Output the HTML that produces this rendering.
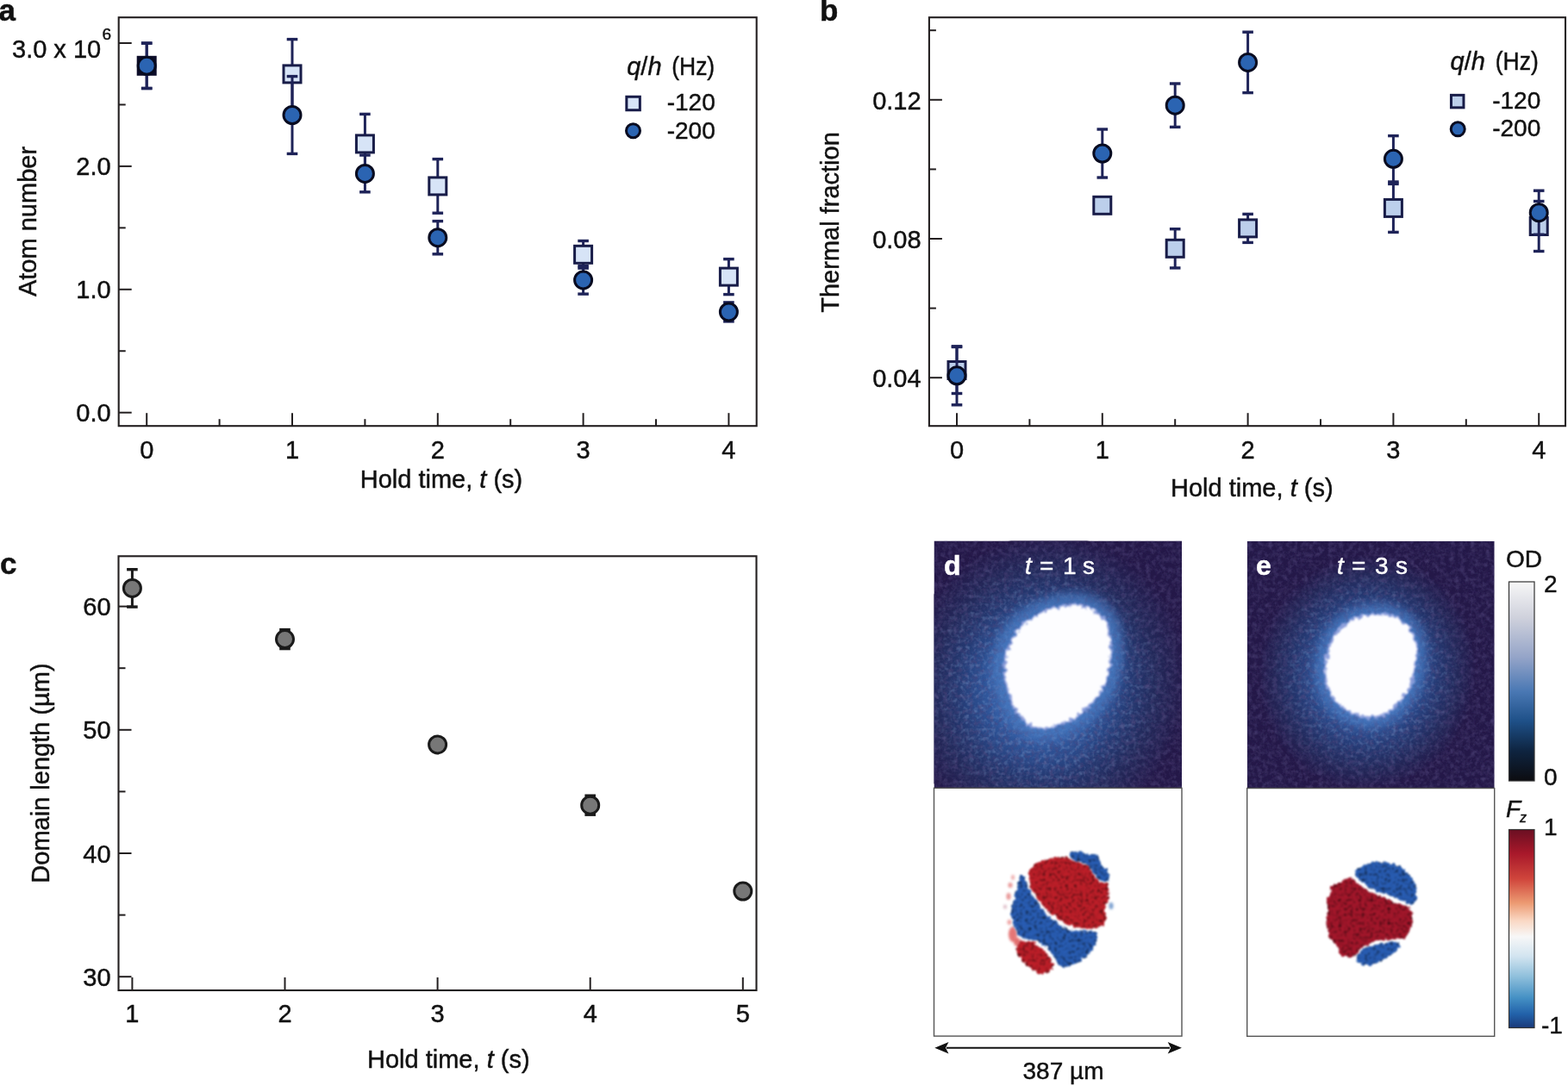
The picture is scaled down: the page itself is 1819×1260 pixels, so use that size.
<!DOCTYPE html>
<html><head><meta charset="utf-8"><title>Figure</title><style>
html,body{margin:0;padding:0;background:#fff;overflow:hidden;}
svg{display:block;}
text{font-family:"Liberation Sans", Arial, Helvetica, sans-serif;fill:#111;stroke:#111;stroke-width:0.45px;}
.b{font-weight:bold;}
</style></head><body>
<svg width="1819" height="1260" viewBox="0 0 1819 1260">
<rect width="1819" height="1260" fill="#fff"/>
<rect x="137.7" y="20.2" width="740.0" height="474.0" fill="none" stroke="#231f20" stroke-width="2.1"/>
<line x1="137.7" y1="478.7" x2="152.7" y2="478.7" stroke="#231f20" stroke-width="2"/>
<line x1="137.7" y1="335.79999999999995" x2="152.7" y2="335.79999999999995" stroke="#231f20" stroke-width="2"/>
<line x1="137.7" y1="192.89999999999998" x2="152.7" y2="192.89999999999998" stroke="#231f20" stroke-width="2"/>
<line x1="137.7" y1="49.99999999999994" x2="152.7" y2="49.99999999999994" stroke="#231f20" stroke-width="2"/>
<line x1="137.7" y1="407.25" x2="145.7" y2="407.25" stroke="#231f20" stroke-width="2"/>
<line x1="137.7" y1="264.34999999999997" x2="145.7" y2="264.34999999999997" stroke="#231f20" stroke-width="2"/>
<line x1="137.7" y1="121.44999999999999" x2="145.7" y2="121.44999999999999" stroke="#231f20" stroke-width="2"/>
<line x1="170.2" y1="494.2" x2="170.2" y2="479.2" stroke="#231f20" stroke-width="2"/>
<line x1="339.0" y1="494.2" x2="339.0" y2="479.2" stroke="#231f20" stroke-width="2"/>
<line x1="507.8" y1="494.2" x2="507.8" y2="479.2" stroke="#231f20" stroke-width="2"/>
<line x1="676.6" y1="494.2" x2="676.6" y2="479.2" stroke="#231f20" stroke-width="2"/>
<line x1="845.4000000000001" y1="494.2" x2="845.4000000000001" y2="479.2" stroke="#231f20" stroke-width="2"/>
<line x1="254.6" y1="494.2" x2="254.6" y2="486.2" stroke="#231f20" stroke-width="2"/>
<line x1="423.4" y1="494.2" x2="423.4" y2="486.2" stroke="#231f20" stroke-width="2"/>
<line x1="592.2" y1="494.2" x2="592.2" y2="486.2" stroke="#231f20" stroke-width="2"/>
<line x1="761.0" y1="494.2" x2="761.0" y2="486.2" stroke="#231f20" stroke-width="2"/>
<text x="170.2" y="531.7" font-size="29" text-anchor="middle" >0</text>
<text x="339.0" y="531.7" font-size="29" text-anchor="middle" >1</text>
<text x="507.8" y="531.7" font-size="29" text-anchor="middle" >2</text>
<text x="676.6" y="531.7" font-size="29" text-anchor="middle" >3</text>
<text x="845.4000000000001" y="531.7" font-size="29" text-anchor="middle" >4</text>
<text x="128.6" y="489.2" font-size="29" text-anchor="end" >0.0</text>
<text x="128.6" y="346.29999999999995" font-size="29" text-anchor="end" >1.0</text>
<text x="128.6" y="203.39999999999998" font-size="29" text-anchor="end" >2.0</text>
<text x="14" y="66.9" font-size="29" text-anchor="start" >3.0 x 10</text>
<text x="118.5" y="46.3" font-size="19" text-anchor="start" >6</text>
<text x="512" y="566.2" font-size="29" text-anchor="middle" >Hold time, <tspan font-style="italic">t</tspan> (s)</text>
<text transform="translate(41.5,257) rotate(-90)" font-size="29" text-anchor="middle">Atom number</text>
<text x="-1.5" y="23.8" font-size="35" class="b">a</text>
<text x="727.2" y="87" font-size="29" text-anchor="start" ><tspan font-style="italic">q</tspan>/<tspan font-style="italic">h</tspan></text>
<text x="779.2" y="87" font-size="29" textLength="50" lengthAdjust="spacingAndGlyphs">(Hz)</text>
<rect x="726.85" y="112.25" width="15.5" height="15.5" fill="#d7e4f7" stroke="#181c48" stroke-width="3"/>
<text x="773.7" y="128.3" font-size="28" text-anchor="start" >-120</text>
<circle cx="734.5" cy="151.7" r="8" fill="#2b64b2" stroke="#080b20" stroke-width="3"/>
<text x="773.7" y="160.5" font-size="28" text-anchor="start" >-200</text>
<line x1="170.2" y1="50.099999999999994" x2="170.2" y2="102.5" stroke="#1e2358" stroke-width="3"/>
<line x1="163.89999999999998" y1="50.099999999999994" x2="176.5" y2="50.099999999999994" stroke="#1e2358" stroke-width="3.4"/>
<line x1="163.89999999999998" y1="102.5" x2="176.5" y2="102.5" stroke="#1e2358" stroke-width="3.4"/>
<line x1="339.0" y1="45.60000000000001" x2="339.0" y2="126.2" stroke="#1e2358" stroke-width="3"/>
<line x1="332.7" y1="45.60000000000001" x2="345.3" y2="45.60000000000001" stroke="#1e2358" stroke-width="3.4"/>
<line x1="332.7" y1="126.2" x2="345.3" y2="126.2" stroke="#1e2358" stroke-width="3.4"/>
<line x1="423.4" y1="132.4" x2="423.4" y2="201.4" stroke="#1e2358" stroke-width="3"/>
<line x1="417.09999999999997" y1="132.4" x2="429.7" y2="132.4" stroke="#1e2358" stroke-width="3.4"/>
<line x1="417.09999999999997" y1="201.4" x2="429.7" y2="201.4" stroke="#1e2358" stroke-width="3.4"/>
<line x1="507.8" y1="184.6" x2="507.8" y2="247.20000000000002" stroke="#1e2358" stroke-width="3"/>
<line x1="501.5" y1="184.6" x2="514.1" y2="184.6" stroke="#1e2358" stroke-width="3.4"/>
<line x1="501.5" y1="247.20000000000002" x2="514.1" y2="247.20000000000002" stroke="#1e2358" stroke-width="3.4"/>
<line x1="676.6" y1="279.5" x2="676.6" y2="311.1" stroke="#1e2358" stroke-width="3"/>
<line x1="670.3000000000001" y1="279.5" x2="682.9" y2="279.5" stroke="#1e2358" stroke-width="3.4"/>
<line x1="670.3000000000001" y1="311.1" x2="682.9" y2="311.1" stroke="#1e2358" stroke-width="3.4"/>
<line x1="845.4000000000001" y1="300.6" x2="845.4000000000001" y2="341.6" stroke="#1e2358" stroke-width="3"/>
<line x1="839.1000000000001" y1="300.6" x2="851.7" y2="300.6" stroke="#1e2358" stroke-width="3.4"/>
<line x1="839.1000000000001" y1="341.6" x2="851.7" y2="341.6" stroke="#1e2358" stroke-width="3.4"/>
<rect x="160.2" y="66.3" width="20" height="20" fill="#16163a" stroke="#0d0d2a" stroke-width="3"/>
<rect x="329.0" y="75.9" width="20" height="20" fill="#d7e4f7" stroke="#181c48" stroke-width="3"/>
<rect x="413.4" y="156.9" width="20" height="20" fill="#d7e4f7" stroke="#181c48" stroke-width="3"/>
<rect x="497.8" y="205.9" width="20" height="20" fill="#d7e4f7" stroke="#181c48" stroke-width="3"/>
<rect x="666.6" y="285.3" width="20" height="20" fill="#d7e4f7" stroke="#181c48" stroke-width="3"/>
<rect x="835.4000000000001" y="311.1" width="20" height="20" fill="#d7e4f7" stroke="#181c48" stroke-width="3"/>
<line x1="170.2" y1="50.099999999999994" x2="170.2" y2="102.5" stroke="#1e2358" stroke-width="3"/>
<line x1="163.89999999999998" y1="50.099999999999994" x2="176.5" y2="50.099999999999994" stroke="#1e2358" stroke-width="3.4"/>
<line x1="163.89999999999998" y1="102.5" x2="176.5" y2="102.5" stroke="#1e2358" stroke-width="3.4"/>
<line x1="339.0" y1="88.6" x2="339.0" y2="178.4" stroke="#1e2358" stroke-width="3"/>
<line x1="332.7" y1="88.6" x2="345.3" y2="88.6" stroke="#1e2358" stroke-width="3.4"/>
<line x1="332.7" y1="178.4" x2="345.3" y2="178.4" stroke="#1e2358" stroke-width="3.4"/>
<line x1="423.4" y1="180.0" x2="423.4" y2="222.8" stroke="#1e2358" stroke-width="3"/>
<line x1="417.09999999999997" y1="180.0" x2="429.7" y2="180.0" stroke="#1e2358" stroke-width="3.4"/>
<line x1="417.09999999999997" y1="222.8" x2="429.7" y2="222.8" stroke="#1e2358" stroke-width="3.4"/>
<line x1="507.8" y1="256.59999999999997" x2="507.8" y2="294.8" stroke="#1e2358" stroke-width="3"/>
<line x1="501.5" y1="256.59999999999997" x2="514.1" y2="256.59999999999997" stroke="#1e2358" stroke-width="3.4"/>
<line x1="501.5" y1="294.8" x2="514.1" y2="294.8" stroke="#1e2358" stroke-width="3.4"/>
<line x1="676.6" y1="308.7" x2="676.6" y2="341.09999999999997" stroke="#1e2358" stroke-width="3"/>
<line x1="670.3000000000001" y1="308.7" x2="682.9" y2="308.7" stroke="#1e2358" stroke-width="3.4"/>
<line x1="670.3000000000001" y1="341.09999999999997" x2="682.9" y2="341.09999999999997" stroke="#1e2358" stroke-width="3.4"/>
<line x1="845.4000000000001" y1="350.9" x2="845.4000000000001" y2="372.9" stroke="#1e2358" stroke-width="3"/>
<line x1="839.1000000000001" y1="350.9" x2="851.7" y2="350.9" stroke="#1e2358" stroke-width="3.4"/>
<line x1="839.1000000000001" y1="372.9" x2="851.7" y2="372.9" stroke="#1e2358" stroke-width="3.4"/>
<circle cx="170.2" cy="76.3" r="10" fill="#2b64b2" stroke="#080b20" stroke-width="3"/>
<circle cx="339.0" cy="133.5" r="10" fill="#2b64b2" stroke="#080b20" stroke-width="3"/>
<circle cx="423.4" cy="201.4" r="10" fill="#2b64b2" stroke="#080b20" stroke-width="3"/>
<circle cx="507.8" cy="275.7" r="10" fill="#2b64b2" stroke="#080b20" stroke-width="3"/>
<circle cx="676.6" cy="324.9" r="10" fill="#2b64b2" stroke="#080b20" stroke-width="3"/>
<circle cx="845.4000000000001" cy="361.9" r="10" fill="#2b64b2" stroke="#080b20" stroke-width="3"/>
<rect x="1077.9" y="20.2" width="738.0999999999999" height="474.0" fill="none" stroke="#231f20" stroke-width="2.1"/>
<line x1="1077.9" y1="438.19999999999993" x2="1092.9" y2="438.19999999999993" stroke="#231f20" stroke-width="2"/>
<line x1="1077.9" y1="276.99999999999994" x2="1092.9" y2="276.99999999999994" stroke="#231f20" stroke-width="2"/>
<line x1="1077.9" y1="115.8" x2="1092.9" y2="115.8" stroke="#231f20" stroke-width="2"/>
<line x1="1077.9" y1="357.59999999999997" x2="1085.9" y2="357.59999999999997" stroke="#231f20" stroke-width="2"/>
<line x1="1077.9" y1="196.39999999999995" x2="1085.9" y2="196.39999999999995" stroke="#231f20" stroke-width="2"/>
<line x1="1077.9" y1="35.19999999999993" x2="1085.9" y2="35.19999999999993" stroke="#231f20" stroke-width="2"/>
<line x1="1110.0" y1="494.2" x2="1110.0" y2="479.2" stroke="#231f20" stroke-width="2"/>
<line x1="1278.8" y1="494.2" x2="1278.8" y2="479.2" stroke="#231f20" stroke-width="2"/>
<line x1="1447.6" y1="494.2" x2="1447.6" y2="479.2" stroke="#231f20" stroke-width="2"/>
<line x1="1616.4" y1="494.2" x2="1616.4" y2="479.2" stroke="#231f20" stroke-width="2"/>
<line x1="1785.2" y1="494.2" x2="1785.2" y2="479.2" stroke="#231f20" stroke-width="2"/>
<line x1="1194.4" y1="494.2" x2="1194.4" y2="486.2" stroke="#231f20" stroke-width="2"/>
<line x1="1363.2" y1="494.2" x2="1363.2" y2="486.2" stroke="#231f20" stroke-width="2"/>
<line x1="1532.0" y1="494.2" x2="1532.0" y2="486.2" stroke="#231f20" stroke-width="2"/>
<line x1="1700.8000000000002" y1="494.2" x2="1700.8000000000002" y2="486.2" stroke="#231f20" stroke-width="2"/>
<text x="1110.0" y="531.5" font-size="29" text-anchor="middle" >0</text>
<text x="1278.8" y="531.5" font-size="29" text-anchor="middle" >1</text>
<text x="1447.6" y="531.5" font-size="29" text-anchor="middle" >2</text>
<text x="1616.4" y="531.5" font-size="29" text-anchor="middle" >3</text>
<text x="1785.2" y="531.5" font-size="29" text-anchor="middle" >4</text>
<text x="1068.6" y="449.19999999999993" font-size="29" text-anchor="end" >0.04</text>
<text x="1068.6" y="287.99999999999994" font-size="29" text-anchor="end" >0.08</text>
<text x="1068.6" y="126.8" font-size="29" text-anchor="end" >0.12</text>
<text x="1452.3" y="576.4" font-size="29" text-anchor="middle" >Hold time, <tspan font-style="italic">t</tspan> (s)</text>
<text transform="translate(972.7,258) rotate(-90)" font-size="29" text-anchor="middle">Thermal fraction</text>
<text x="951" y="23.5" font-size="35" class="b">b</text>
<text x="1682.6" y="81.4" font-size="29" text-anchor="start" ><tspan font-style="italic">q</tspan>/<tspan font-style="italic">h</tspan></text>
<text x="1734.8" y="81.4" font-size="29" textLength="50" lengthAdjust="spacingAndGlyphs">(Hz)</text>
<rect x="1683.45" y="110.35" width="14.5" height="14.5" fill="#bccfeb" stroke="#181c48" stroke-width="3"/>
<text x="1731.2" y="126" font-size="28" text-anchor="start" >-120</text>
<circle cx="1691.2" cy="149.8" r="8" fill="#2b64b2" stroke="#080b20" stroke-width="3"/>
<text x="1731.2" y="158" font-size="28" text-anchor="start" >-200</text>
<line x1="1110.0" y1="402.5" x2="1110.0" y2="456.5" stroke="#1e2358" stroke-width="3"/>
<line x1="1103.7" y1="402.5" x2="1116.3" y2="402.5" stroke="#1e2358" stroke-width="3.4"/>
<line x1="1103.7" y1="456.5" x2="1116.3" y2="456.5" stroke="#1e2358" stroke-width="3.4"/>
<line x1="1363.2" y1="265.7" x2="1363.2" y2="310.90000000000003" stroke="#1e2358" stroke-width="3"/>
<line x1="1356.9" y1="265.7" x2="1369.5" y2="265.7" stroke="#1e2358" stroke-width="3.4"/>
<line x1="1356.9" y1="310.90000000000003" x2="1369.5" y2="310.90000000000003" stroke="#1e2358" stroke-width="3.4"/>
<line x1="1447.6" y1="248.39999999999998" x2="1447.6" y2="281.4" stroke="#1e2358" stroke-width="3"/>
<line x1="1441.3" y1="248.39999999999998" x2="1453.8999999999999" y2="248.39999999999998" stroke="#1e2358" stroke-width="3.4"/>
<line x1="1441.3" y1="281.4" x2="1453.8999999999999" y2="281.4" stroke="#1e2358" stroke-width="3.4"/>
<line x1="1616.4" y1="213.4" x2="1616.4" y2="269.4" stroke="#1e2358" stroke-width="3"/>
<line x1="1610.1000000000001" y1="213.4" x2="1622.7" y2="213.4" stroke="#1e2358" stroke-width="3.4"/>
<line x1="1610.1000000000001" y1="269.4" x2="1622.7" y2="269.4" stroke="#1e2358" stroke-width="3.4"/>
<line x1="1785.2" y1="233.5" x2="1785.2" y2="291.5" stroke="#1e2358" stroke-width="3"/>
<line x1="1778.9" y1="233.5" x2="1791.5" y2="233.5" stroke="#1e2358" stroke-width="3.4"/>
<line x1="1778.9" y1="291.5" x2="1791.5" y2="291.5" stroke="#1e2358" stroke-width="3.4"/>
<rect x="1100.0" y="419.5" width="20" height="20" fill="#bccfeb" stroke="#181c48" stroke-width="3"/>
<rect x="1268.8" y="228.3" width="20" height="20" fill="#bccfeb" stroke="#181c48" stroke-width="3"/>
<rect x="1353.2" y="278.3" width="20" height="20" fill="#bccfeb" stroke="#181c48" stroke-width="3"/>
<rect x="1437.6" y="254.89999999999998" width="20" height="20" fill="#bccfeb" stroke="#181c48" stroke-width="3"/>
<rect x="1606.4" y="231.4" width="20" height="20" fill="#bccfeb" stroke="#181c48" stroke-width="3"/>
<rect x="1775.2" y="252.5" width="20" height="20" fill="#bccfeb" stroke="#181c48" stroke-width="3"/>
<line x1="1110.0" y1="401.8" x2="1110.0" y2="469.8" stroke="#1e2358" stroke-width="3"/>
<line x1="1103.7" y1="401.8" x2="1116.3" y2="401.8" stroke="#1e2358" stroke-width="3.4"/>
<line x1="1103.7" y1="469.8" x2="1116.3" y2="469.8" stroke="#1e2358" stroke-width="3.4"/>
<line x1="1278.8" y1="150" x2="1278.8" y2="206" stroke="#1e2358" stroke-width="3"/>
<line x1="1272.5" y1="150" x2="1285.1" y2="150" stroke="#1e2358" stroke-width="3.4"/>
<line x1="1272.5" y1="206" x2="1285.1" y2="206" stroke="#1e2358" stroke-width="3.4"/>
<line x1="1363.2" y1="97.0" x2="1363.2" y2="147.4" stroke="#1e2358" stroke-width="3"/>
<line x1="1356.9" y1="97.0" x2="1369.5" y2="97.0" stroke="#1e2358" stroke-width="3.4"/>
<line x1="1356.9" y1="147.4" x2="1369.5" y2="147.4" stroke="#1e2358" stroke-width="3.4"/>
<line x1="1447.6" y1="37.2" x2="1447.6" y2="107.60000000000001" stroke="#1e2358" stroke-width="3"/>
<line x1="1441.3" y1="37.2" x2="1453.8999999999999" y2="37.2" stroke="#1e2358" stroke-width="3.4"/>
<line x1="1441.3" y1="107.60000000000001" x2="1453.8999999999999" y2="107.60000000000001" stroke="#1e2358" stroke-width="3.4"/>
<line x1="1616.4" y1="157.60000000000002" x2="1616.4" y2="211.0" stroke="#1e2358" stroke-width="3"/>
<line x1="1610.1000000000001" y1="157.60000000000002" x2="1622.7" y2="157.60000000000002" stroke="#1e2358" stroke-width="3.4"/>
<line x1="1610.1000000000001" y1="211.0" x2="1622.7" y2="211.0" stroke="#1e2358" stroke-width="3.4"/>
<line x1="1785.2" y1="221.2" x2="1785.2" y2="272.2" stroke="#1e2358" stroke-width="3"/>
<line x1="1778.9" y1="221.2" x2="1791.5" y2="221.2" stroke="#1e2358" stroke-width="3.4"/>
<line x1="1778.9" y1="272.2" x2="1791.5" y2="272.2" stroke="#1e2358" stroke-width="3.4"/>
<circle cx="1110.0" cy="435.8" r="10" fill="#2b64b2" stroke="#080b20" stroke-width="3"/>
<circle cx="1278.8" cy="178" r="10" fill="#2b64b2" stroke="#080b20" stroke-width="3"/>
<circle cx="1363.2" cy="122.2" r="10" fill="#2b64b2" stroke="#080b20" stroke-width="3"/>
<circle cx="1447.6" cy="72.4" r="10" fill="#2b64b2" stroke="#080b20" stroke-width="3"/>
<circle cx="1616.4" cy="184.3" r="10" fill="#2b64b2" stroke="#080b20" stroke-width="3"/>
<circle cx="1785.2" cy="246.7" r="10" fill="#2b64b2" stroke="#080b20" stroke-width="3"/>
<rect x="137.5" y="645.3" width="740.0" height="503.70000000000005" fill="none" stroke="#231f20" stroke-width="2.1"/>
<line x1="137.5" y1="1133.2" x2="152.5" y2="1133.2" stroke="#231f20" stroke-width="2"/>
<line x1="137.5" y1="990.0" x2="152.5" y2="990.0" stroke="#231f20" stroke-width="2"/>
<line x1="137.5" y1="846.8" x2="152.5" y2="846.8" stroke="#231f20" stroke-width="2"/>
<line x1="137.5" y1="703.6" x2="152.5" y2="703.6" stroke="#231f20" stroke-width="2"/>
<line x1="137.5" y1="1061.6" x2="145.5" y2="1061.6" stroke="#231f20" stroke-width="2"/>
<line x1="137.5" y1="918.4000000000001" x2="145.5" y2="918.4000000000001" stroke="#231f20" stroke-width="2"/>
<line x1="137.5" y1="775.2" x2="145.5" y2="775.2" stroke="#231f20" stroke-width="2"/>
<line x1="153.4" y1="1149.0" x2="153.4" y2="1134.0" stroke="#231f20" stroke-width="2"/>
<line x1="330.5" y1="1149.0" x2="330.5" y2="1134.0" stroke="#231f20" stroke-width="2"/>
<line x1="507.6" y1="1149.0" x2="507.6" y2="1134.0" stroke="#231f20" stroke-width="2"/>
<line x1="684.6999999999999" y1="1149.0" x2="684.6999999999999" y2="1134.0" stroke="#231f20" stroke-width="2"/>
<line x1="861.8" y1="1149.0" x2="861.8" y2="1134.0" stroke="#231f20" stroke-width="2"/>
<text x="153.4" y="1185.6" font-size="29" text-anchor="middle" >1</text>
<text x="330.5" y="1185.6" font-size="29" text-anchor="middle" >2</text>
<text x="507.6" y="1185.6" font-size="29" text-anchor="middle" >3</text>
<text x="684.6999999999999" y="1185.6" font-size="29" text-anchor="middle" >4</text>
<text x="861.8" y="1185.6" font-size="29" text-anchor="middle" >5</text>
<text x="128.6" y="1143.7" font-size="29" text-anchor="end" >30</text>
<text x="128.6" y="1000.5" font-size="29" text-anchor="end" >40</text>
<text x="128.6" y="857.3" font-size="29" text-anchor="end" >50</text>
<text x="128.6" y="714.1" font-size="29" text-anchor="end" >60</text>
<text x="520.3" y="1239.2" font-size="29" text-anchor="middle" >Hold time, <tspan font-style="italic">t</tspan> (s)</text>
<text transform="translate(56.9,897) rotate(-90)" font-size="29" text-anchor="middle">Domain length (µm)</text>
<text x="0" y="666.4" font-size="35" class="b">c</text>
<line x1="153.4" y1="660.6999999999999" x2="153.4" y2="704.1" stroke="#1a1a1a" stroke-width="3"/>
<line x1="147.1" y1="660.6999999999999" x2="159.70000000000002" y2="660.6999999999999" stroke="#1a1a1a" stroke-width="3.4"/>
<line x1="147.1" y1="704.1" x2="159.70000000000002" y2="704.1" stroke="#1a1a1a" stroke-width="3.4"/>
<line x1="330.5" y1="730.6" x2="330.5" y2="752.6" stroke="#1a1a1a" stroke-width="3"/>
<line x1="324.2" y1="730.6" x2="336.8" y2="730.6" stroke="#1a1a1a" stroke-width="3.4"/>
<line x1="324.2" y1="752.6" x2="336.8" y2="752.6" stroke="#1a1a1a" stroke-width="3.4"/>
<line x1="684.6999999999999" y1="923.2" x2="684.6999999999999" y2="945.2" stroke="#1a1a1a" stroke-width="3"/>
<line x1="678.4" y1="923.2" x2="690.9999999999999" y2="923.2" stroke="#1a1a1a" stroke-width="3.4"/>
<line x1="678.4" y1="945.2" x2="690.9999999999999" y2="945.2" stroke="#1a1a1a" stroke-width="3.4"/>
<circle cx="153.4" cy="682.4" r="10" fill="#777777" stroke="#1a1a1a" stroke-width="3"/>
<circle cx="330.5" cy="741.6" r="10" fill="#777777" stroke="#1a1a1a" stroke-width="3"/>
<circle cx="507.6" cy="863.9" r="10" fill="#777777" stroke="#1a1a1a" stroke-width="3"/>
<circle cx="684.6999999999999" cy="934.2" r="10" fill="#777777" stroke="#1a1a1a" stroke-width="3"/>
<circle cx="861.8" cy="1034" r="10" fill="#777777" stroke="#1a1a1a" stroke-width="3"/>
<defs>
<filter id="odnoise" x="0" y="0" width="100%" height="100%">
<feTurbulence type="fractalNoise" baseFrequency="0.17" numOctaves="3" seed="11" result="n"/>
<feColorMatrix in="n" type="matrix" values="0 0 0 0 0.24  0 0 0 0 0.22  0 0 0 0 0.46  0.5 0 0 0 -0.24" result="c"/>
<feComposite in="c" in2="SourceGraphic" operator="in"/>
</filter>
<filter id="odnoise2" x="0" y="0" width="100%" height="100%">
<feTurbulence type="fractalNoise" baseFrequency="0.17" numOctaves="3" seed="29" result="n"/>
<feColorMatrix in="n" type="matrix" values="0 0 0 0 0.08  0 0 0 0 0.06  0 0 0 0 0.2  -0.9 0 0 0 0.5" result="c"/>
<feComposite in="c" in2="SourceGraphic" operator="in"/>
</filter>
<filter id="odnoiseL" x="0" y="0" width="100%" height="100%">
<feTurbulence type="fractalNoise" baseFrequency="0.2" numOctaves="2" seed="5" result="n"/>
<feColorMatrix in="n" type="matrix" values="0 0 0 0 0.32  0 0 0 0 0.48  0 0 0 0 0.78  0.8 0 0 0 -0.38" result="c"/>
<feComposite in="c" in2="SourceGraphic" operator="in"/>
</filter>
<radialGradient id="maskG" cx="0.5" cy="0.5" r="0.5">
<stop offset="0" stop-color="#fff"/>
<stop offset="0.6" stop-color="#fff"/>
<stop offset="1" stop-color="#000"/>
</radialGradient>
<filter id="rough" x="-20%" y="-20%" width="140%" height="140%">
<feTurbulence type="fractalNoise" baseFrequency="0.2" numOctaves="2" seed="4" result="n"/>
<feDisplacementMap in="SourceGraphic" in2="n" scale="8" xChannelSelector="R" yChannelSelector="G" result="d"/>
<feGaussianBlur in="d" stdDeviation="1.3"/>
</filter>
<filter id="blur6" x="-30%" y="-30%" width="160%" height="160%"><feGaussianBlur stdDeviation="6"/></filter>
<filter id="tex" x="-10%" y="-10%" width="120%" height="120%" color-interpolation-filters="sRGB">
<feTurbulence type="fractalNoise" baseFrequency="0.22" numOctaves="2" seed="21" result="n"/>
<feDisplacementMap in="SourceGraphic" in2="n" scale="6" xChannelSelector="R" yChannelSelector="G" result="d"/>
<feTurbulence type="fractalNoise" baseFrequency="0.3" numOctaves="2" seed="8" result="n2"/>
<feColorMatrix in="n2" type="matrix" values="1.9 0 0 0 0.04  1.9 0 0 0 0.04  1.9 0 0 0 0.04  0 0 0 0 1" result="g"/>
<feBlend in="d" in2="g" mode="multiply" result="m"/>
<feComposite in="m" in2="d" operator="in" result="mc"/>
<feGaussianBlur in="mc" stdDeviation="0.9"/>
</filter>
<radialGradient id="haloD" cx="0.5" cy="0.5" r="0.5">
<stop offset="0" stop-color="#365ea6"/>
<stop offset="0.38" stop-color="#325aa0"/>
<stop offset="0.5" stop-color="#2a4a8a"/>
<stop offset="0.62" stop-color="#243870"/>
<stop offset="0.78" stop-color="#23295a"/>
<stop offset="1" stop-color="#241848"/>
</radialGradient>
<radialGradient id="haloE" cx="0.5" cy="0.5" r="0.5">
<stop offset="0" stop-color="#365ea6"/>
<stop offset="0.42" stop-color="#325aa0"/>
<stop offset="0.54" stop-color="#2a4888"/>
<stop offset="0.68" stop-color="#24366e"/>
<stop offset="0.84" stop-color="#232758"/>
<stop offset="1" stop-color="#241848"/>
</radialGradient>
<linearGradient id="cbOD" x1="0" y1="0" x2="0" y2="1">
<stop offset="0" stop-color="#f7f7f7"/>
<stop offset="0.18" stop-color="#cfd1dc"/>
<stop offset="0.38" stop-color="#94a4c8"/>
<stop offset="0.55" stop-color="#4a78b4"/>
<stop offset="0.7" stop-color="#1e5088"/>
<stop offset="0.85" stop-color="#0e2440"/>
<stop offset="1" stop-color="#0c0c10"/>
</linearGradient>
<linearGradient id="cbFz" x1="0" y1="0" x2="0" y2="1">
<stop offset="0" stop-color="#6a0f22"/>
<stop offset="0.12" stop-color="#a8182a"/>
<stop offset="0.25" stop-color="#d0463c"/>
<stop offset="0.37" stop-color="#ec9a72"/>
<stop offset="0.46" stop-color="#fad8c4"/>
<stop offset="0.54" stop-color="#f7f7f7"/>
<stop offset="0.64" stop-color="#d2e4f0"/>
<stop offset="0.74" stop-color="#90c0dc"/>
<stop offset="0.85" stop-color="#4490c4"/>
<stop offset="0.93" stop-color="#2262aa"/>
<stop offset="1" stop-color="#1a3a7a"/>
</linearGradient>
<clipPath id="cD"><rect x="1083.5" y="627.5" width="287.5" height="286.8"/></clipPath>
<clipPath id="cE"><rect x="1446.7" y="627.8" width="287" height="286.5"/></clipPath>
</defs>
<g clip-path="url(#cD)">
<rect x="1083.5" y="627.5" width="287.5" height="286.8" fill="#241848"/>
<ellipse cx="1212" cy="795" rx="165" ry="175" fill="url(#haloD)" transform="rotate(16 1212 795)"/>
<rect x="1083.5" y="627.5" width="287.5" height="286.8" fill="#fff" filter="url(#odnoise)"/>
<rect x="1083.5" y="627.5" width="287.5" height="286.8" fill="#fff" filter="url(#odnoise2)"/>
<mask id="mcD"><ellipse cx="1212" cy="795" rx="165" ry="175" fill="url(#maskG)"/></mask>
<rect x="1083.5" y="627.5" width="287.5" height="286.8" fill="#fff" filter="url(#odnoiseL)" mask="url(#mcD)"/>
<path d="M1235.2,703.9 C1242.2,703.0 1249.8,702.5 1256.1,703.9 C1262.4,705.3 1268.3,708.7 1272.8,712.2 C1277.3,715.7 1280.8,719.5 1283.2,724.7 C1285.6,729.9 1286.7,736.9 1287.4,743.5 C1288.1,750.1 1288.1,757.4 1287.4,764.4 C1286.7,771.4 1285.3,778.6 1283.2,785.2 C1281.1,791.8 1278.6,798.1 1274.8,804.0 C1271.0,809.9 1265.5,815.8 1260.3,820.7 C1255.1,825.6 1249.9,829.7 1243.6,833.2 C1237.3,836.7 1229.3,839.8 1222.7,841.5 C1216.1,843.2 1209.5,844.6 1203.9,843.6 C1198.3,842.6 1193.8,839.5 1189.3,835.3 C1184.8,831.1 1180.1,824.9 1176.8,818.6 C1173.5,812.3 1171.0,804.7 1169.3,797.7 C1167.6,790.8 1166.4,783.9 1166.4,776.9 C1166.4,769.9 1167.2,763.0 1169.3,756.0 C1171.4,749.0 1174.9,741.1 1178.9,735.2 C1182.9,729.3 1187.6,724.9 1193.5,720.6 C1199.4,716.3 1207.5,712.1 1214.4,709.3 C1221.4,706.5 1228.2,704.8 1235.2,703.9Z" fill="#4a7cc2" stroke="#4a7cc2" stroke-width="30" opacity="0.8" filter="url(#blur6)"/>
<rect x="1083.5" y="627.5" width="287.5" height="286.8" fill="#fff" filter="url(#odnoise2)" opacity="0.6"/>
<path d="M1235.2,703.9 C1242.2,703.0 1249.8,702.5 1256.1,703.9 C1262.4,705.3 1268.3,708.7 1272.8,712.2 C1277.3,715.7 1280.8,719.5 1283.2,724.7 C1285.6,729.9 1286.7,736.9 1287.4,743.5 C1288.1,750.1 1288.1,757.4 1287.4,764.4 C1286.7,771.4 1285.3,778.6 1283.2,785.2 C1281.1,791.8 1278.6,798.1 1274.8,804.0 C1271.0,809.9 1265.5,815.8 1260.3,820.7 C1255.1,825.6 1249.9,829.7 1243.6,833.2 C1237.3,836.7 1229.3,839.8 1222.7,841.5 C1216.1,843.2 1209.5,844.6 1203.9,843.6 C1198.3,842.6 1193.8,839.5 1189.3,835.3 C1184.8,831.1 1180.1,824.9 1176.8,818.6 C1173.5,812.3 1171.0,804.7 1169.3,797.7 C1167.6,790.8 1166.4,783.9 1166.4,776.9 C1166.4,769.9 1167.2,763.0 1169.3,756.0 C1171.4,749.0 1174.9,741.1 1178.9,735.2 C1182.9,729.3 1187.6,724.9 1193.5,720.6 C1199.4,716.3 1207.5,712.1 1214.4,709.3 C1221.4,706.5 1228.2,704.8 1235.2,703.9Z" fill="#a8b0e8" stroke="#a8b0e8" stroke-width="5" opacity="0.75" filter="url(#rough)"/>
<path d="M1235.2,703.9 C1242.2,703.0 1249.8,702.5 1256.1,703.9 C1262.4,705.3 1268.3,708.7 1272.8,712.2 C1277.3,715.7 1280.8,719.5 1283.2,724.7 C1285.6,729.9 1286.7,736.9 1287.4,743.5 C1288.1,750.1 1288.1,757.4 1287.4,764.4 C1286.7,771.4 1285.3,778.6 1283.2,785.2 C1281.1,791.8 1278.6,798.1 1274.8,804.0 C1271.0,809.9 1265.5,815.8 1260.3,820.7 C1255.1,825.6 1249.9,829.7 1243.6,833.2 C1237.3,836.7 1229.3,839.8 1222.7,841.5 C1216.1,843.2 1209.5,844.6 1203.9,843.6 C1198.3,842.6 1193.8,839.5 1189.3,835.3 C1184.8,831.1 1180.1,824.9 1176.8,818.6 C1173.5,812.3 1171.0,804.7 1169.3,797.7 C1167.6,790.8 1166.4,783.9 1166.4,776.9 C1166.4,769.9 1167.2,763.0 1169.3,756.0 C1171.4,749.0 1174.9,741.1 1178.9,735.2 C1182.9,729.3 1187.6,724.9 1193.5,720.6 C1199.4,716.3 1207.5,712.1 1214.4,709.3 C1221.4,706.5 1228.2,704.8 1235.2,703.9Z" fill="#fdfdff" filter="url(#rough)"/>
</g>
<g clip-path="url(#cE)">
<rect x="1446.7" y="627.8" width="287" height="286.5" fill="#241848"/>
<ellipse cx="1586" cy="780" rx="126" ry="136" fill="url(#haloE)" transform="rotate(10 1586 780)"/>
<rect x="1446.7" y="627.8" width="287" height="286.5" fill="#fff" filter="url(#odnoise)"/>
<rect x="1446.7" y="627.8" width="287" height="286.5" fill="#fff" filter="url(#odnoise2)"/>
<mask id="mcE"><ellipse cx="1586" cy="780" rx="126" ry="136" fill="url(#maskG)"/></mask>
<rect x="1446.7" y="627.8" width="287" height="286.5" fill="#fff" filter="url(#odnoiseL)" mask="url(#mcE)"/>
<path d="M1585.7,714.3 C1592.3,713.5 1603.8,712.9 1610.7,714.3 C1617.7,715.7 1622.9,719.1 1627.4,722.6 C1631.9,726.1 1635.4,730.3 1637.8,735.2 C1640.2,740.1 1641.5,745.5 1642.0,751.8 C1642.5,758.0 1641.8,765.7 1640.7,772.7 C1639.7,779.7 1638.3,787.3 1635.7,793.6 C1633.1,799.9 1629.5,805.1 1625.3,810.3 C1621.1,815.5 1616.3,821.4 1610.7,824.9 C1605.1,828.4 1598.2,830.6 1591.9,831.1 C1585.6,831.6 1579.0,829.9 1573.1,827.8 C1567.2,825.7 1561.3,822.6 1556.5,818.6 C1551.7,814.6 1546.9,809.6 1544.0,804.0 C1541.1,798.4 1539.6,791.8 1538.9,785.2 C1538.2,778.6 1538.6,771.4 1539.8,764.4 C1541.0,757.4 1543.3,749.4 1546.1,743.5 C1548.9,737.6 1552.3,732.9 1556.5,728.9 C1560.7,724.9 1566.2,721.7 1571.1,719.3 C1576.0,716.9 1579.1,715.1 1585.7,714.3Z" fill="#4a7cc2" stroke="#4a7cc2" stroke-width="24" opacity="0.8" filter="url(#blur6)"/>
<rect x="1446.7" y="627.8" width="287" height="286.5" fill="#fff" filter="url(#odnoise2)" opacity="0.6"/>
<path d="M1585.7,714.3 C1592.3,713.5 1603.8,712.9 1610.7,714.3 C1617.7,715.7 1622.9,719.1 1627.4,722.6 C1631.9,726.1 1635.4,730.3 1637.8,735.2 C1640.2,740.1 1641.5,745.5 1642.0,751.8 C1642.5,758.0 1641.8,765.7 1640.7,772.7 C1639.7,779.7 1638.3,787.3 1635.7,793.6 C1633.1,799.9 1629.5,805.1 1625.3,810.3 C1621.1,815.5 1616.3,821.4 1610.7,824.9 C1605.1,828.4 1598.2,830.6 1591.9,831.1 C1585.6,831.6 1579.0,829.9 1573.1,827.8 C1567.2,825.7 1561.3,822.6 1556.5,818.6 C1551.7,814.6 1546.9,809.6 1544.0,804.0 C1541.1,798.4 1539.6,791.8 1538.9,785.2 C1538.2,778.6 1538.6,771.4 1539.8,764.4 C1541.0,757.4 1543.3,749.4 1546.1,743.5 C1548.9,737.6 1552.3,732.9 1556.5,728.9 C1560.7,724.9 1566.2,721.7 1571.1,719.3 C1576.0,716.9 1579.1,715.1 1585.7,714.3Z" fill="#a8b0e8" stroke="#a8b0e8" stroke-width="5" opacity="0.75" filter="url(#rough)"/>
<path d="M1585.7,714.3 C1592.3,713.5 1603.8,712.9 1610.7,714.3 C1617.7,715.7 1622.9,719.1 1627.4,722.6 C1631.9,726.1 1635.4,730.3 1637.8,735.2 C1640.2,740.1 1641.5,745.5 1642.0,751.8 C1642.5,758.0 1641.8,765.7 1640.7,772.7 C1639.7,779.7 1638.3,787.3 1635.7,793.6 C1633.1,799.9 1629.5,805.1 1625.3,810.3 C1621.1,815.5 1616.3,821.4 1610.7,824.9 C1605.1,828.4 1598.2,830.6 1591.9,831.1 C1585.6,831.6 1579.0,829.9 1573.1,827.8 C1567.2,825.7 1561.3,822.6 1556.5,818.6 C1551.7,814.6 1546.9,809.6 1544.0,804.0 C1541.1,798.4 1539.6,791.8 1538.9,785.2 C1538.2,778.6 1538.6,771.4 1539.8,764.4 C1541.0,757.4 1543.3,749.4 1546.1,743.5 C1548.9,737.6 1552.3,732.9 1556.5,728.9 C1560.7,724.9 1566.2,721.7 1571.1,719.3 C1576.0,716.9 1579.1,715.1 1585.7,714.3Z" fill="#fdfdff" filter="url(#rough)"/>
</g>
<rect x="1083.5" y="914.3" width="287.5" height="287.8" fill="#fff" stroke="#555" stroke-width="1.4"/>
<rect x="1446.7" y="914.5" width="287" height="287.8" fill="#fff" stroke="#555" stroke-width="1.4"/>
<filter id="blur2" x="-50%" y="-50%" width="200%" height="200%"><feGaussianBlur stdDeviation="1.6"/></filter>
<g filter="url(#blur2)" opacity="0.75">
<ellipse cx="1175" cy="1084" rx="5" ry="9" fill="#dc4a4a"/>
<ellipse cx="1180" cy="1093" rx="4" ry="5" fill="#d84040"/>
<ellipse cx="1171" cy="1070" rx="2.5" ry="3" fill="#e88080"/>
<ellipse cx="1170" cy="1040" rx="2.5" ry="4" fill="#e07070"/>
<ellipse cx="1172" cy="1027" rx="2.5" ry="3" fill="#e07070"/>
<ellipse cx="1175" cy="1018" rx="2" ry="3" fill="#e89090"/>
<ellipse cx="1166" cy="1052" rx="2" ry="2.5" fill="#d0a0b0"/>
<ellipse cx="1289" cy="1051" rx="2.5" ry="4" fill="#5080c0"/>
</g>
<g filter="url(#tex)">
<path d="M1193.8,1009.2 C1196.1,1006.0 1202.5,1001.3 1207.1,999.0 C1211.6,996.7 1216.6,996.0 1221.1,995.2 C1225.5,994.4 1230.4,993.8 1233.8,994.0 C1237.2,994.2 1238.4,995.2 1241.4,996.5 C1244.4,997.8 1248.2,1000.3 1251.6,1001.6 C1255.0,1002.9 1259.4,1002.8 1261.7,1004.1 C1264.0,1005.4 1264.1,1006.9 1265.6,1009.2 C1267.1,1011.5 1268.7,1015.8 1270.6,1018.1 C1272.5,1020.4 1274.7,1021.9 1277.0,1023.2 C1279.3,1024.5 1283.0,1024.0 1284.6,1025.7 C1286.2,1027.4 1286.3,1030.3 1286.5,1033.3 C1286.7,1036.3 1286.4,1040.5 1285.9,1043.5 C1285.4,1046.5 1283.9,1048.6 1283.3,1051.1 C1282.7,1053.6 1282.1,1056.2 1282.1,1058.7 C1282.1,1061.2 1283.5,1064.0 1283.3,1066.3 C1283.1,1068.6 1282.3,1071.0 1280.8,1072.7 C1279.3,1074.4 1277.2,1075.7 1274.4,1076.5 C1271.7,1077.3 1268.1,1077.8 1264.3,1077.8 C1260.5,1077.8 1255.4,1077.1 1251.6,1076.5 C1247.8,1075.9 1244.6,1075.0 1241.4,1074.0 C1238.2,1073.0 1235.2,1071.9 1232.5,1070.2 C1229.8,1068.5 1227.7,1065.9 1224.9,1063.8 C1222.2,1061.7 1218.5,1059.6 1216.0,1057.5 C1213.5,1055.4 1211.6,1053.4 1209.7,1051.1 C1207.8,1048.8 1206.3,1046.0 1204.6,1043.5 C1202.9,1041.0 1201.0,1038.4 1199.5,1035.9 C1198.0,1033.4 1196.8,1031.3 1195.7,1028.3 C1194.7,1025.3 1193.5,1021.3 1193.2,1018.1 C1192.9,1014.9 1191.5,1012.4 1193.8,1009.2Z" fill="#bc1e28"/>
<path d="M1183.0,1018.1 C1184.5,1015.2 1186.6,1013.9 1188.1,1015.6 C1189.6,1017.3 1190.4,1024.7 1191.9,1028.3 C1193.4,1031.9 1195.1,1033.9 1197.0,1037.1 C1198.9,1040.3 1201.2,1044.1 1203.3,1047.3 C1205.4,1050.5 1207.2,1053.5 1209.7,1056.2 C1212.2,1059.0 1215.6,1061.3 1218.6,1063.8 C1221.6,1066.3 1224.1,1069.1 1227.5,1071.4 C1230.9,1073.7 1234.9,1076.3 1238.9,1077.8 C1242.9,1079.3 1247.4,1079.9 1251.6,1080.3 C1255.8,1080.7 1260.9,1080.1 1264.3,1080.3 C1267.7,1080.5 1270.4,1080.3 1271.9,1081.6 C1273.4,1082.9 1273.4,1085.4 1273.2,1087.9 C1273.0,1090.4 1272.1,1094.0 1270.6,1096.8 C1269.1,1099.5 1266.4,1101.9 1264.3,1104.4 C1262.2,1107.0 1260.5,1110.0 1257.9,1112.1 C1255.4,1114.2 1251.3,1115.8 1249.0,1117.1 C1246.7,1118.4 1246.1,1118.8 1244.0,1119.7 C1241.9,1120.6 1238.8,1122.2 1236.3,1122.2 C1233.8,1122.2 1230.8,1121.4 1228.7,1119.7 C1226.6,1118.0 1225.4,1114.6 1223.7,1112.1 C1222.0,1109.5 1220.5,1106.7 1218.6,1104.4 C1216.7,1102.1 1214.5,1100.0 1212.2,1098.1 C1209.9,1096.2 1207.1,1094.3 1204.6,1093.0 C1202.1,1091.7 1199.8,1091.1 1197.0,1090.5 C1194.2,1089.9 1190.4,1089.8 1188.1,1089.2 C1185.8,1088.6 1184.7,1088.6 1183.0,1086.7 C1181.3,1084.8 1179.4,1080.8 1177.9,1077.8 C1176.4,1074.8 1174.9,1072.5 1174.1,1068.9 C1173.3,1065.3 1172.7,1060.0 1172.9,1056.2 C1173.1,1052.4 1174.4,1049.8 1175.4,1046.0 C1176.5,1042.2 1177.9,1038.0 1179.2,1033.3 C1180.5,1028.6 1181.5,1021.0 1183.0,1018.1Z" fill="#285cb2"/>
<path d="M1183.0,1093.0 C1185.1,1091.3 1188.9,1091.5 1191.9,1091.7 C1194.9,1091.9 1198.0,1092.8 1200.8,1094.3 C1203.5,1095.8 1206.1,1098.5 1208.4,1100.6 C1210.7,1102.7 1212.9,1104.9 1214.8,1107.0 C1216.7,1109.1 1218.5,1111.2 1219.8,1113.3 C1221.1,1115.4 1222.6,1117.6 1222.4,1119.7 C1222.2,1121.8 1220.5,1124.3 1218.6,1126.0 C1216.7,1127.7 1213.5,1129.4 1211.0,1129.8 C1208.5,1130.2 1205.8,1129.6 1203.3,1128.6 C1200.8,1127.5 1198.2,1125.4 1195.7,1123.5 C1193.2,1121.6 1190.4,1119.2 1188.1,1117.1 C1185.8,1115.0 1183.2,1113.3 1181.7,1110.8 C1180.2,1108.3 1179.0,1104.9 1179.2,1101.9 C1179.4,1098.9 1180.9,1094.7 1183.0,1093.0Z" fill="#bc1e28"/>
<path d="M1241.4,990.2 C1242.9,988.7 1248.2,987.4 1251.6,987.6 C1255.0,987.8 1258.5,990.8 1261.7,991.4 C1264.9,992.0 1267.8,989.5 1270.6,991.4 C1273.4,993.3 1276.0,999.9 1278.3,1002.9 C1280.6,1005.9 1283.1,1006.7 1284.6,1009.2 C1286.1,1011.7 1287.1,1015.8 1287.1,1018.1 C1287.1,1020.4 1286.3,1022.6 1284.6,1023.2 C1282.9,1023.8 1279.3,1023.0 1277.0,1021.9 C1274.7,1020.8 1272.5,1019.1 1270.6,1016.8 C1268.7,1014.5 1267.3,1010.2 1265.6,1007.9 C1263.9,1005.6 1263.0,1004.2 1260.5,1002.9 C1258.0,1001.6 1253.3,1001.4 1250.3,1000.3 C1247.3,999.2 1244.2,998.2 1242.7,996.5 C1241.2,994.8 1239.9,991.7 1241.4,990.2Z" fill="#285cb2"/>
<path d="M1566.7,1017.8 C1569.3,1017.8 1570.0,1020.4 1572.2,1022.2 C1574.4,1024.1 1577.2,1026.9 1580.0,1028.9 C1582.8,1030.9 1585.6,1032.7 1588.9,1034.4 C1592.2,1036.1 1596.3,1037.4 1600.0,1038.9 C1603.7,1040.4 1607.4,1041.8 1611.1,1043.3 C1614.8,1044.8 1618.9,1046.3 1622.2,1047.8 C1625.5,1049.3 1628.5,1050.7 1631.1,1052.2 C1633.7,1053.7 1636.5,1054.5 1637.8,1056.7 C1639.1,1058.9 1639.1,1062.6 1638.9,1065.6 C1638.7,1068.5 1637.5,1071.6 1636.7,1074.4 C1636.0,1077.2 1635.7,1080.0 1634.4,1082.2 C1633.1,1084.4 1631.7,1086.5 1628.9,1087.8 C1626.1,1089.1 1621.9,1089.5 1617.8,1090.0 C1613.7,1090.5 1608.5,1090.5 1604.4,1091.1 C1600.3,1091.6 1596.8,1092.2 1593.3,1093.3 C1589.8,1094.4 1586.2,1095.9 1583.3,1097.8 C1580.3,1099.7 1577.4,1102.6 1575.6,1104.4 C1573.8,1106.2 1573.7,1108.0 1572.2,1108.9 C1570.7,1109.8 1569.1,1109.8 1566.7,1110.0 C1564.3,1110.2 1560.0,1110.9 1557.8,1110.0 C1555.6,1109.1 1554.8,1106.8 1553.3,1104.4 C1551.8,1102.0 1550.8,1098.7 1548.9,1095.6 C1547.1,1092.5 1543.7,1088.8 1542.2,1085.6 C1540.7,1082.4 1540.5,1080.0 1540.0,1076.7 C1539.5,1073.4 1538.9,1069.7 1538.9,1065.6 C1538.9,1061.5 1540.0,1055.5 1540.0,1052.2 C1540.0,1048.9 1538.5,1048.2 1538.9,1045.6 C1539.3,1043.0 1541.1,1039.7 1542.2,1036.7 C1543.3,1033.7 1543.2,1030.2 1545.6,1027.8 C1548.0,1025.4 1553.2,1023.9 1556.7,1022.2 C1560.2,1020.5 1564.1,1017.8 1566.7,1017.8Z" fill="#a2162a"/>
<path d="M1572.2,1012.2 C1573.0,1010.2 1575.0,1007.5 1577.8,1005.6 C1580.6,1003.8 1585.2,1002.0 1588.9,1001.1 C1592.6,1000.2 1596.3,1000.0 1600.0,1000.0 C1603.7,1000.0 1607.4,1000.4 1611.1,1001.1 C1614.8,1001.8 1618.9,1002.7 1622.2,1004.4 C1625.5,1006.1 1628.5,1008.7 1631.1,1011.1 C1633.7,1013.5 1635.9,1016.3 1637.8,1018.9 C1639.7,1021.5 1641.3,1023.7 1642.2,1026.7 C1643.1,1029.7 1643.3,1033.6 1643.3,1036.7 C1643.3,1039.8 1643.1,1043.6 1642.2,1045.6 C1641.3,1047.6 1639.8,1048.7 1637.8,1048.9 C1635.8,1049.1 1633.0,1047.8 1630.0,1046.7 C1627.0,1045.6 1623.5,1043.7 1620.0,1042.2 C1616.5,1040.7 1612.6,1039.1 1608.9,1037.8 C1605.2,1036.5 1601.5,1035.9 1597.8,1034.4 C1594.1,1032.9 1589.8,1030.8 1586.7,1028.9 C1583.6,1027.1 1581.1,1025.2 1578.9,1023.3 C1576.7,1021.4 1574.4,1019.6 1573.3,1017.8 C1572.2,1015.9 1571.5,1014.2 1572.2,1012.2Z" fill="#285cb2"/>
<path d="M1577.8,1104.4 C1579.8,1102.4 1583.4,1099.3 1586.7,1097.8 C1590.0,1096.3 1593.7,1096.3 1597.8,1095.6 C1601.9,1094.8 1606.8,1093.7 1611.1,1093.3 C1615.3,1092.9 1621.4,1092.2 1623.3,1093.3 C1625.2,1094.4 1623.5,1097.8 1622.2,1100.0 C1620.9,1102.2 1618.2,1104.7 1615.6,1106.7 C1613.0,1108.7 1609.7,1110.5 1606.7,1112.2 C1603.7,1113.9 1600.6,1115.4 1597.8,1116.7 C1595.0,1118.0 1593.0,1119.6 1590.0,1120.0 C1587.0,1120.4 1582.6,1119.8 1580.0,1118.9 C1577.4,1118.0 1575.3,1115.9 1574.4,1114.4 C1573.5,1112.9 1573.8,1111.7 1574.4,1110.0 C1575.0,1108.3 1575.8,1106.4 1577.8,1104.4Z" fill="#285cb2"/>
</g>
<text x="1095" y="666.6" font-size="32" class="b" fill="#fff" style="fill:#fff;stroke:#fff">d</text>
<text x="1457" y="666.6" font-size="32" class="b" style="fill:#fff;stroke:#fff">e</text>
<text y="666.4" font-size="28" style="fill:#fff;stroke:#fff"><tspan x="1189" font-style="italic">t</tspan><tspan x="1206">=</tspan><tspan x="1233">1</tspan><tspan x="1256">s</tspan></text>
<text y="666.4" font-size="28" style="fill:#fff;stroke:#fff"><tspan x="1551" font-style="italic">t</tspan><tspan x="1568">=</tspan><tspan x="1595">3</tspan><tspan x="1619">s</tspan></text>
<rect x="1750.5" y="675" width="29.5" height="231" fill="url(#cbOD)" stroke="#333" stroke-width="1.2"/>
<rect x="1750.5" y="962.5" width="29.5" height="230" fill="url(#cbFz)" stroke="#333" stroke-width="1.2"/>
<text x="1747" y="657.5" font-size="28">OD</text>
<text x="1791" y="686.5" font-size="28">2</text>
<text x="1791" y="911" font-size="28">0</text>
<text x="1747" y="948.3" font-size="28" font-style="italic">F</text>
<text x="1763" y="953.8" font-size="16" font-style="italic">z</text>
<text x="1791" y="968.6" font-size="28">1</text>
<text x="1788" y="1198.5" font-size="28">-1</text>
<line x1="1098" y1="1215.7" x2="1357" y2="1215.7" stroke="#111" stroke-width="2"/>
<path d="M1084.3,1215.7 L1100.5,1209 L1097,1215.7 L1100.5,1222.4 Z" fill="#111"/>
<path d="M1370.9,1215.7 L1354.7,1209 L1358.2,1215.7 L1354.7,1222.4 Z" fill="#111"/>
<text x="1233.5" y="1252" font-size="28" text-anchor="middle">387 µm</text>
</svg></body></html>
